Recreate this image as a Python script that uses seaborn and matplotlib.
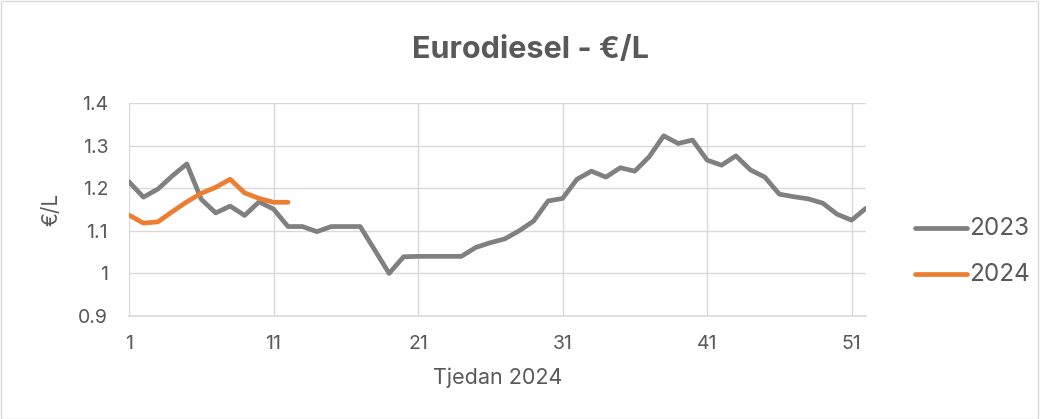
import seaborn as sns
import pandas as pd
import matplotlib.pyplot as plt
from matplotlib.patches import Rectangle

# Tjedni (weeks) i cijene €/L
weeks_2023 = list(range(1, 53))
price_2023 = [1.215, 1.179, 1.198, 1.229, 1.257, 1.174, 1.142, 1.158, 1.136, 1.168,
              1.151, 1.110, 1.110, 1.098, 1.110, 1.110, 1.110, 1.055, 1.000, 1.039,
              1.040, 1.040, 1.040, 1.040, 1.061, 1.072, 1.081, 1.100, 1.123, 1.170,
              1.176, 1.221, 1.240, 1.226, 1.248, 1.240, 1.274, 1.323, 1.305, 1.313,
              1.266, 1.254, 1.276, 1.243, 1.226, 1.186, 1.180, 1.175, 1.165, 1.139,
              1.125, 1.153]
weeks_2024 = list(range(1, 13))
price_2024 = [1.137, 1.118, 1.121, 1.145, 1.168, 1.188, 1.202, 1.221, 1.189, 1.176,
              1.167, 1.167]

df = pd.concat([
    pd.DataFrame({"tjedan": weeks_2023, "cijena": price_2023, "godina": "2023"}),
    pd.DataFrame({"tjedan": weeks_2024, "cijena": price_2024, "godina": "2024"}),
])

sns.set_theme(style="white")
plt.rcParams["font.family"] = ["Inter", "DejaVu Sans"]
txt = "#595959"
grid = "#d9d9d9"

fig = plt.figure(figsize=(10.4, 4.19), dpi=100)
ax = fig.add_axes([129 / 1040, 1 - 316 / 419, (866 - 129) / 1040, (316 - 103) / 419])

sns.lineplot(data=df, x="tjedan", y="cijena", hue="godina",
             palette={"2023": "#808080", "2024": "#ED7D31"},
             linewidth=3.4, ax=ax, legend=False)

ax.set_xlim(1, 52)
ax.set_ylim(0.9, 1.4)
ax.set_xticks([1, 11, 21, 31, 41, 51])
ax.set_yticks([0.9, 1.0, 1.1, 1.2, 1.3, 1.4])
ax.set_yticklabels(["0.9", "1", "1.1", "1.2", "1.3", "1.4"])
ax.grid(True, color=grid, linewidth=1)
ax.set_axisbelow(True)
for s in ["top", "right", "left"]:
    ax.spines[s].set_visible(False)
ax.spines["bottom"].set_color(grid)
ax.spines["bottom"].set_linewidth(1.2)
ax.tick_params(axis="x", length=0, labelsize=14, colors=txt, pad=14)
ax.tick_params(axis="y", length=0, labelsize=14, colors=txt, pad=15)

ax.set_xlabel("Tjedan 2024", fontsize=15.5, color=txt, labelpad=10)
ax.set_ylabel("€/L", fontsize=15, color=txt, labelpad=12)
fig.text(531 / 1040, 1 - 50 / 419, "Eurodiesel - €/L", ha="center", va="center",
         fontsize=22, fontweight="bold", color=txt)

# legenda desno
for y, lab, col in [(228, "2023", "#808080"), (274, "2024", "#ED7D31")]:
    fig.add_artist(plt.Line2D([915 / 1040, 967 / 1040], [1 - y / 419] * 2,
                              color=col, linewidth=3.4, solid_capstyle="round"))
    fig.text(969 / 1040, 1 - y / 419, lab, ha="left", va="center",
             fontsize=17.5, color=txt)

fig.add_artist(Rectangle((0.001, 0.001), 0.997, 0.996, transform=fig.transFigure,
                         fill=False, edgecolor=grid, linewidth=1))

fig.savefig("out.png", dpi=100)
